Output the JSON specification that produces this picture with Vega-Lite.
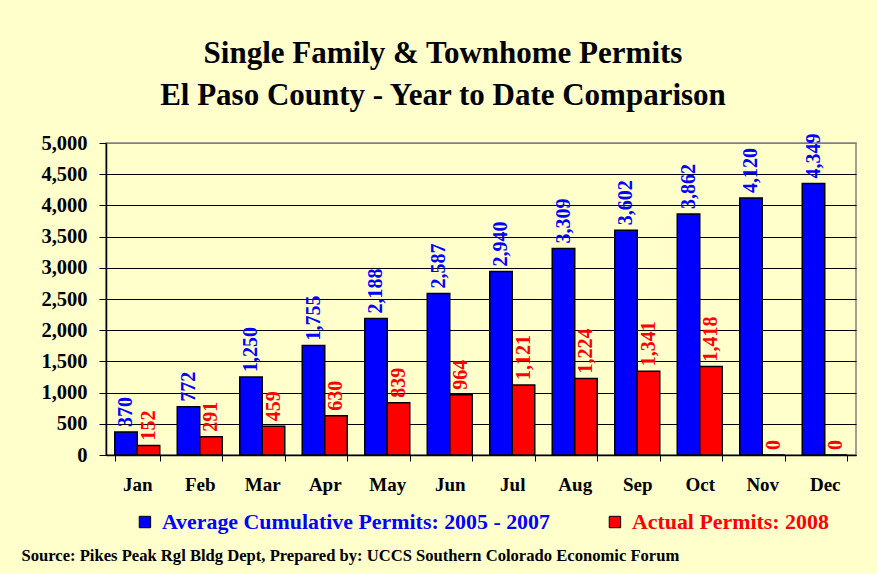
{
  "$schema": "https://vega.github.io/schema/vega-lite/v6.json",
  "width": 750,
  "height": 312,
  "autosize": {"type": "none"},
  "padding": {"left": 106, "top": 143, "right": 21, "bottom": 119},
  "background": "#FFFFCC",
  "title": {
    "text": ["Single Family & Townhome Permits", "El Paso County - Year to Date Comparison"],
    "font": "Liberation Serif, Times New Roman, DejaVu Serif, serif",
    "fontSize": 31,
    "fontWeight": "bold",
    "color": "#000000",
    "lineHeight": 42,
    "anchor": "middle",
    "frame": "group",
    "dx": -38,
    "offset": 21
  },
  "data": {
    "values": [
      {"month": "Jan", "series": "Average Cumulative Permits: 2005 - 2007", "value": 370},
      {"month": "Feb", "series": "Average Cumulative Permits: 2005 - 2007", "value": 772},
      {"month": "Mar", "series": "Average Cumulative Permits: 2005 - 2007", "value": 1250},
      {"month": "Apr", "series": "Average Cumulative Permits: 2005 - 2007", "value": 1755},
      {"month": "May", "series": "Average Cumulative Permits: 2005 - 2007", "value": 2188},
      {"month": "Jun", "series": "Average Cumulative Permits: 2005 - 2007", "value": 2587},
      {"month": "Jul", "series": "Average Cumulative Permits: 2005 - 2007", "value": 2940},
      {"month": "Aug", "series": "Average Cumulative Permits: 2005 - 2007", "value": 3309},
      {"month": "Sep", "series": "Average Cumulative Permits: 2005 - 2007", "value": 3602},
      {"month": "Oct", "series": "Average Cumulative Permits: 2005 - 2007", "value": 3862},
      {"month": "Nov", "series": "Average Cumulative Permits: 2005 - 2007", "value": 4120},
      {"month": "Dec", "series": "Average Cumulative Permits: 2005 - 2007", "value": 4349},
      {"month": "Jan", "series": "Actual Permits: 2008", "value": 152},
      {"month": "Feb", "series": "Actual Permits: 2008", "value": 291},
      {"month": "Mar", "series": "Actual Permits: 2008", "value": 459},
      {"month": "Apr", "series": "Actual Permits: 2008", "value": 630},
      {"month": "May", "series": "Actual Permits: 2008", "value": 839},
      {"month": "Jun", "series": "Actual Permits: 2008", "value": 964},
      {"month": "Jul", "series": "Actual Permits: 2008", "value": 1121},
      {"month": "Aug", "series": "Actual Permits: 2008", "value": 1224},
      {"month": "Sep", "series": "Actual Permits: 2008", "value": 1341},
      {"month": "Oct", "series": "Actual Permits: 2008", "value": 1418},
      {"month": "Nov", "series": "Actual Permits: 2008", "value": 0},
      {"month": "Dec", "series": "Actual Permits: 2008", "value": 0}
    ]
  },
  "encoding": {
    "x": {
      "field": "month",
      "type": "nominal",
      "sort": ["Jan", "Feb", "Mar", "Apr", "May", "Jun", "Jul", "Aug", "Sep", "Oct", "Nov", "Dec"],
      "scale": {"paddingInner": 0.28, "paddingOuter": 0.14},
      "axis": {
        "title": "Source: Pikes Peak Rgl Bldg Dept, Prepared by: UCCS Southern Colorado Economic Forum",
        "titleFont": "Liberation Serif, Times New Roman, DejaVu Serif, serif",
        "titleFontSize": 16.6,
        "titleFontWeight": "bold",
        "titleColor": "#000000",
        "titleAnchor": "start",
        "titleAlign": "left",
        "titleBaseline": "alphabetic",
        "titleX": -85,
        "titleY": 105,
        "labelAngle": 0,
        "labelFont": "Liberation Serif, Times New Roman, DejaVu Serif, serif",
        "labelFontSize": 19,
        "labelFontWeight": "bold",
        "labelColor": "#000000",
        "labelPadding": 14,
        "tickBand": "extent",
        "tickSize": 6,
        "tickColor": "#000000",
        "domainColor": "#000000",
        "domainWidth": 1.5,
        "grid": false
      }
    },
    "xOffset": {
      "field": "series",
      "type": "nominal",
      "sort": ["Average Cumulative Permits: 2005 - 2007", "Actual Permits: 2008"],
      "scale": {"paddingInner": 0, "paddingOuter": 0}
    },
    "y": {
      "field": "value",
      "type": "quantitative",
      "scale": {"domain": [0, 5000], "nice": false},
      "axis": {
        "title": null,
        "values": [0, 500, 1000, 1500, 2000, 2500, 3000, 3500, 4000, 4500, 5000],
        "format": ",.0f",
        "labelFont": "Liberation Serif, Times New Roman, DejaVu Serif, serif",
        "labelFontSize": 20.5,
        "labelFontWeight": "bold",
        "labelColor": "#000000",
        "labelPadding": 12,
        "tickSize": 7,
        "tickColor": "#000000",
        "domainColor": "#000000",
        "domainWidth": 1.5,
        "grid": true,
        "gridColor": {"condition": {"test": "datum.value === 5000", "value": "#808080"}, "value": "#000000"},
        "gridWidth": 1
      }
    }
  },
  "layer": [
    {
      "mark": {"type": "bar", "stroke": "#000000", "strokeWidth": 1.5},
      "encoding": {
        "color": {
          "field": "series",
          "type": "nominal",
          "scale": {
            "domain": ["Average Cumulative Permits: 2005 - 2007", "Actual Permits: 2008"],
            "range": ["#0000FF", "#FF0000"]
          },
          "legend": {
            "orient": "none",
            "legendX": 28,
            "legendY": 368,
            "direction": "horizontal",
            "title": null,
            "columnPadding": 54,
            "labelFont": "Liberation Serif, Times New Roman, DejaVu Serif, serif",
            "labelFontSize": 21.9,
            "labelFontWeight": "bold",
            "labelLimit": 0,
            "labelOffset": 6,
            "symbolType": "square",
            "symbolSize": 130,
            "symbolStrokeColor": "#000000",
            "symbolStrokeWidth": 1,
            "symbolOpacity": 1,
            "encode": {
              "labels": {
                "update": {
                  "fill": {"signal": "datum.value === 'Actual Permits: 2008' ? '#FF0000' : '#0000FF'"}
                }
              }
            }
          }
        }
      }
    },
    {
      "mark": {
        "type": "text",
        "angle": 270,
        "align": "left",
        "baseline": "middle",
        "dx": 5,
        "font": "Liberation Serif, Times New Roman, DejaVu Serif, serif",
        "fontSize": 20,
        "fontWeight": "bold"
      },
      "encoding": {
        "text": {"field": "value", "type": "quantitative", "format": ",.0f"},
        "color": {
          "condition": {"test": "datum.series === 'Actual Permits: 2008'", "value": "#FF0000"},
          "value": "#0000FF"
        }
      }
    }
  ],
  "config": {
    "view": {"stroke": "#808080", "strokeWidth": 1.5}
  }
}
